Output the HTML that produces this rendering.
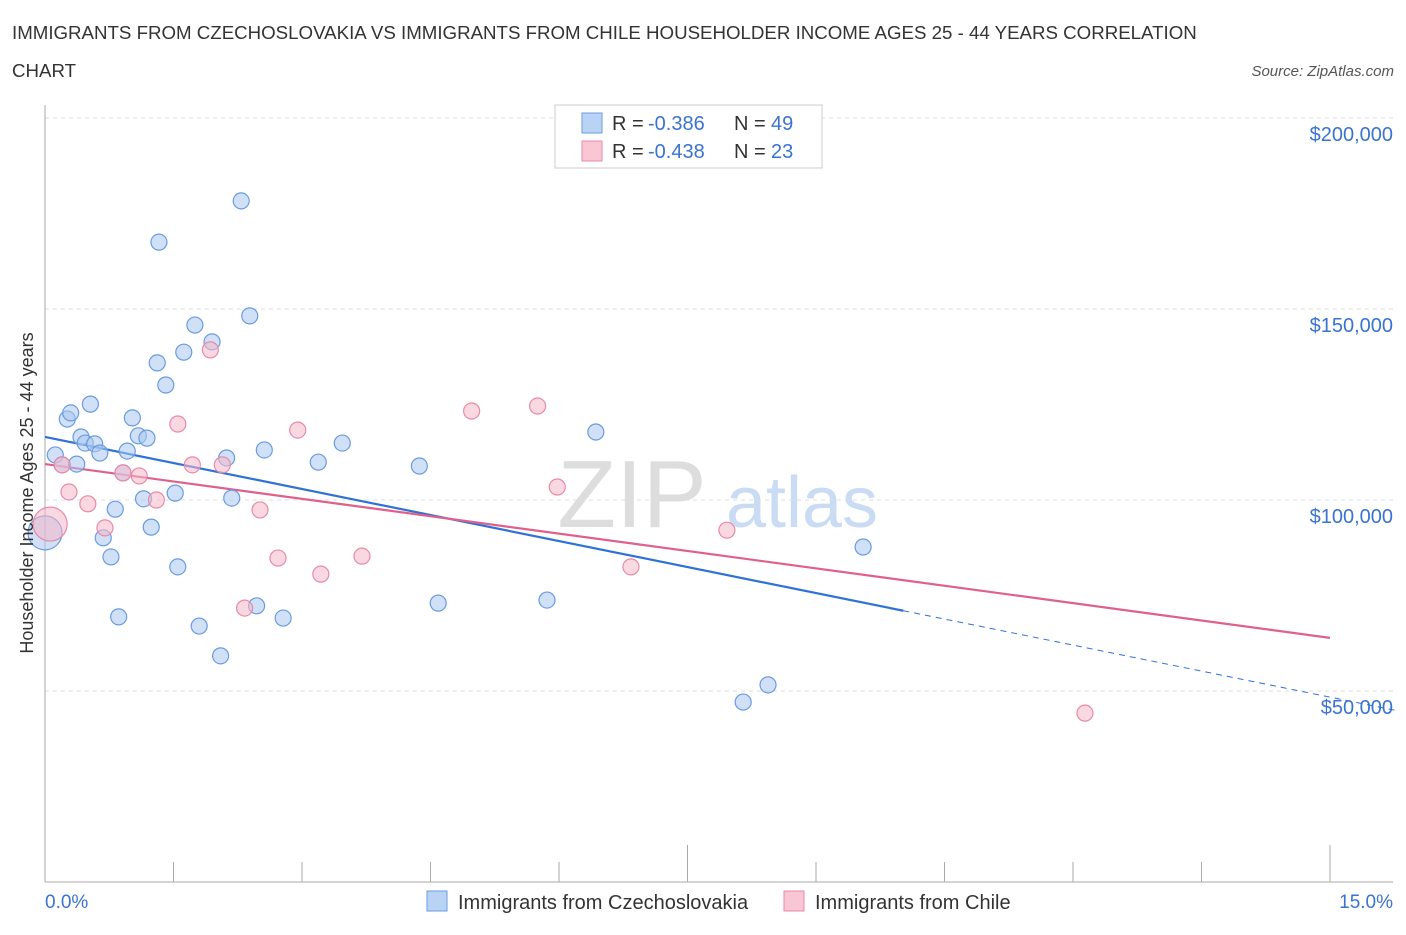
<!DOCTYPE html>
<html><head><meta charset="utf-8">
<style>
body{margin:0;background:#fff;font-family:"Liberation Sans",sans-serif;}
svg text{font-family:"Liberation Sans",sans-serif;}
</style></head>
<body>
<svg id="chart" width="1406" height="930" viewBox="0 0 1406 930" xmlns="http://www.w3.org/2000/svg">
<text x="12" y="39" font-size="18.7" fill="#333">IMMIGRANTS FROM CZECHOSLOVAKIA VS IMMIGRANTS FROM CHILE HOUSEHOLDER INCOME AGES 25 - 44 YEARS CORRELATION</text>
<text x="12" y="77" font-size="18.7" fill="#333">CHART</text>
<text x="1394" y="76" font-size="15" fill="#555" font-style="italic" text-anchor="end">Source: ZipAtlas.com</text>
<g>
<text x="632" y="527" font-size="96" fill="#ddd" font-family="Liberation Serif" text-anchor="middle">ZIP</text>
<text x="802" y="527" font-size="72" fill="#c9dcf3" text-anchor="middle">atlas</text>
</g>
<g id="grid"></g>
<g id="axes"></g>
<g id="lines"></g>
<g id="points"></g>
<text transform="translate(33,493) rotate(-90)" font-size="18" fill="#333" text-anchor="middle">Householder Income Ages 25 - 44 years</text>
<text x="45" y="908" font-size="19" fill="#3a73d0">0.0%</text>
<text x="1393" y="908" font-size="19" fill="#3a73d0" text-anchor="end">15.0%</text>
<g>
<rect x="555" y="105" width="267" height="63" fill="#fff" stroke="#ccc"/>
<rect x="582" y="113" width="20" height="20" fill="#b9d3f5" stroke="#6a9be0"/>
<text x="612" y="130" font-size="20" fill="#333">R =</text>
<text x="648" y="130" font-size="20" fill="#3a73d0">-0.386</text>
<text x="734" y="130" font-size="20" fill="#333">N =</text>
<text x="771" y="130" font-size="20" fill="#3a73d0">49</text>
<rect x="582" y="141" width="20" height="20" fill="#f8c6d5" stroke="#e88aa8"/>
<text x="612" y="158" font-size="20" fill="#333">R =</text>
<text x="648" y="158" font-size="20" fill="#3a73d0">-0.438</text>
<text x="734" y="158" font-size="20" fill="#333">N =</text>
<text x="771" y="158" font-size="20" fill="#3a73d0">23</text>
</g>
<g>
<rect x="427" y="891" width="20" height="20" fill="#b9d3f5" stroke="#6a9be0"/>
<text x="458" y="909" font-size="20" fill="#333">Immigrants from Czechoslovakia</text>
<rect x="784" y="891" width="20" height="20" fill="#f8c6d5" stroke="#e88aa8"/>
<text x="815" y="909" font-size="20" fill="#333">Immigrants from Chile</text>
</g>
</svg>
<script>
const yTicks=[50000,100000,150000,200000];
const yTickLabels=["$50,000","$100,000","$150,000","$200,000"];
const xTicks=[0,1.5,3,4.5,6,7.5,9,10.5,12,13.5,15];
const czX=[0.00,0.12,0.20,0.26,0.30,0.37,0.42,0.47,0.53,0.58,0.64,0.68,0.77,0.82,0.86,0.91,0.96,1.02,1.09,1.15,1.19,1.24,1.31,1.33,1.41,1.52,1.55,1.62,1.75,1.80,1.95,2.05,2.12,2.18,2.29,2.39,2.47,2.56,2.78,3.19,3.47,4.37,4.59,5.86,6.43,8.15,8.44,9.55];
const czY=[91.4,111.8,109.2,121.2,122.8,109.4,116.5,114.9,125.1,114.7,112.3,90.1,85.1,97.6,69.4,107.1,112.8,121.5,116.8,100.3,116.2,92.9,135.9,167.5,130.1,101.8,82.5,138.7,145.8,67.0,141.4,59.2,111.0,100.5,178.3,148.2,72.3,113.1,69.1,109.9,114.9,108.9,73.0,73.8,117.8,47.1,51.6,87.7];
const clX=[0.06,0.20,0.28,0.50,0.70,0.91,1.10,1.30,1.55,1.72,1.93,2.07,2.33,2.51,2.72,2.95,3.22,3.70,4.98,5.75,5.98,6.84,7.96,12.14];
const clY=[93.7,109.2,102.1,99.0,92.7,107.1,106.3,100.0,119.9,109.2,139.3,109.2,71.7,97.4,84.8,118.3,80.6,85.3,123.3,124.6,103.4,82.5,92.1,44.2];
const czTrend=[116.5,-4.54];
const clTrend=[109.4,-3.033];
const NS="http://www.w3.org/2000/svg";
const xs=v=>45+v/15*1285;
const ys=v=>882-v/50000*191;
function mk(tag,attrs,parent){const e=document.createElementNS(NS,tag);for(const k in attrs)e.setAttribute(k,attrs[k]);document.getElementById(parent).appendChild(e);return e;}
yTicks.forEach((t,i)=>{
 const l=mk('line',{x1:45,x2:1393,y1:ys(t),y2:ys(t),stroke:'#ddd','stroke-dasharray':'4,4'},'grid');
 
 
 const tx=mk('text',{x:1393,y:ys(t)+23,'font-size':20,fill:'#3a73d0','text-anchor':'end'},'grid');
 tx.textContent=yTickLabels[i];
 
 
});
const ax=mk('line',{x1:45,x2:45,y1:105,y2:882,stroke:'#aaa'},'axes');


const bx=mk('line',{x1:45,x2:1393,y1:882,y2:882,stroke:'#aaa'},'axes');


xTicks.forEach(t=>{
 const l=mk('line',{x1:xs(t),x2:xs(t),y1:882,y2:(t===0||t===7.5||t===15)?845:862,stroke:'#aaa'},'axes');
 
 
});
function tline(tr,x0,x1,col,dash,name){
 const l=mk('line',{x1:xs(x0),x2:xs(x1),y1:ys(1000*(tr[0]+tr[1]*x0)),y2:ys(1000*(tr[0]+tr[1]*x1)),stroke:col,'stroke-width':dash?1:2.2},'lines');
 if(dash)l.setAttribute('stroke-dasharray','6,5');
 
 
}
tline(czTrend,0,10.02,'#2f72d6',false,'czechoslovakia-trend-line');
tline(czTrend,10.02,15.76,'#2f72d6',true,'czechoslovakia-trend-extension');
tline(clTrend,0,15,'#e0608c',false,'chile-trend-line');
function pts(X,Y,fill,stroke,name){
 X.forEach((x,i)=>{
  const c=mk('circle',{cx:xs(x),cy:ys(Y[i]*1000),r:i===0?17:8,fill:fill,'fill-opacity':0.55,stroke:stroke,'stroke-width':1.2},'points');
  
  
 });
}
pts(czX,czY,'#a9c8f0','#6a9be0','czechoslovakia-point');
pts(clX,clY,'#f5b8cb','#e88aa8','chile-point');
</script>
</body></html>
